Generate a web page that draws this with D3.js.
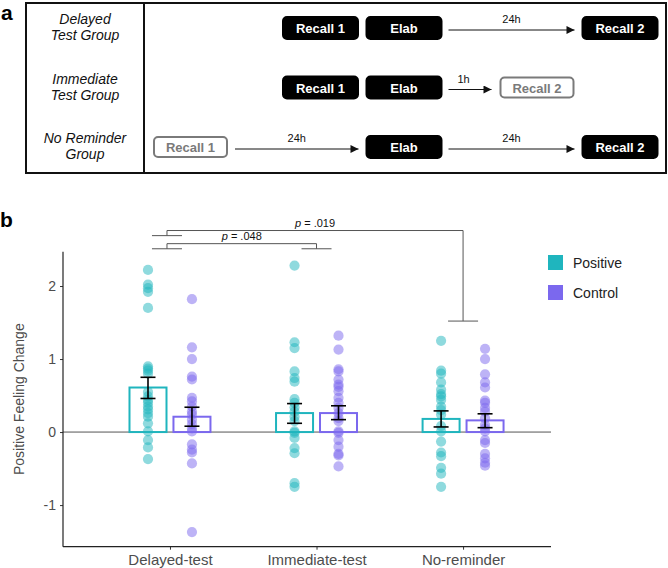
<!DOCTYPE html>
<html><head><meta charset="utf-8">
<script src="https://cdn.jsdelivr.net/npm/d3@7"></script>
<style>body{margin:0;background:#fff} svg{display:block;font-family:"Liberation Sans",Arial,sans-serif}</style>
</head><body><svg id="c" width="668" height="568"></svg>
<script>
// ---------- data ----------
const categories = ["Delayed-test", "Immediate-test", "No-reminder"];
const conditions = ["Positive", "Control"];
const meanPositive = [0.61, 0.26, 0.18];
const meanControl = [0.21, 0.26, 0.16];
const errLowPositive = [0.46, 0.12, 0.07];
const errHighPositive = [0.75, 0.39, 0.29];
const errLowControl = [0.08, 0.17, 0.06];
const errHighControl = [0.34, 0.36, 0.25];
const ptsDelayedPositive = [2.22, 2.02, 1.97, 1.92, 1.70, 0.90, 0.87, 0.84, 0.80, 0.55, 0.49, 0.44, 0.40, 0.35, 0.31, 0.26, 0.21, 0.12, 0.01, -0.11, -0.21, -0.37];
const ptsDelayedControl = [1.82, 1.16, 1.00, 0.76, 0.72, 0.47, 0.42, 0.35, 0.28, 0.24, 0.17, 0.11, 0.05, 0.01, -0.17, -0.24, -0.28, -0.43, -1.37];
const ptsImmediatePositive = [2.28, 1.23, 1.15, 0.83, 0.74, 0.69, 0.45, 0.40, 0.34, 0.28, 0.21, 0.15, 0.01, -0.01, -0.08, -0.22, -0.29, -0.70, -0.75];
const ptsImmediateControl = [1.32, 1.13, 0.86, 0.83, 0.72, 0.65, 0.62, 0.56, 0.47, 0.40, 0.33, 0.26, 0.19, 0.15, 0.01, -0.01, -0.11, -0.20, -0.30, -0.32, -0.47];
const ptsNoReminderPositive = [1.25, 0.84, 0.80, 0.68, 0.58, 0.52, 0.49, 0.44, 0.35, 0.30, 0.24, 0.08, 0.01, -0.13, -0.28, -0.33, -0.49, -0.57, -0.75];
const ptsNoReminderControl = [1.14, 1.00, 0.79, 0.68, 0.61, 0.43, 0.40, 0.33, 0.28, 0.19, 0.10, 0.05, 0.01, -0.11, -0.15, -0.30, -0.36, -0.42, -0.46];
const yTicks = [-1, 0, 1, 2];
const yTickLabels = ["-1", "0", "1", "2"];
const sigPairs = [[0, 1], [0, 2]];
const sigValues = [".048", ".019"];
const sigLevels = [2.58, 2.76];
const sigRightDrop = [2.51, 1.52];
const yLabel = "Positive Feeling Change";

// schematic (panel a)
const groupLines = [["Delayed", "Test Group"], ["Immediate", "Test Group"], ["No Reminder", "Group"]];
const rowBoxes = [
  [["Recall 1", "r1", true], ["Elab", "el", true], ["Recall 2", "r2", true]],
  [["Recall 1", "r1", true], ["Elab", "el", true], ["Recall 2", "r2i", false]],
  [["Recall 1", "r0", false], ["Elab", "el", true], ["Recall 2", "r2", true]]
];
const rowArrows = [
  [["el", "r2", "24h"]],
  [["el", "r2i", "1h"]],
  [["r0", "el", "24h"], ["el", "r2", "24h"]]
];

// ---------- drawing ----------
const svg = d3.select("#c");
const teal = "#1FB5BE", purple = "#7B68EE";
const font = '"Liberation Sans", Arial, sans-serif';

// Panel a
const slotX = {r0: 190.5, r1: 320.5, el: 404, r2i: 537, r2: 620};
const rowY = d3.scalePoint().domain([0, 1, 2]).range([28, 147]);
const boxW = 75, boxH = 22;
svg.append("text").attr("x", 1).attr("y", 20).attr("font-size", 21).attr("font-weight", "bold").text("a");
svg.append("rect").attr("x", 26).attr("y", 3).attr("width", 640).attr("height", 170)
  .attr("fill", "none").attr("stroke", "#111").attr("stroke-width", 2);
svg.append("line").attr("x1", 144).attr("x2", 144).attr("y1", 3).attr("y2", 173).attr("stroke", "#111").attr("stroke-width", 2);

const defs = svg.append("defs");
defs.append("marker").attr("id", "ah").attr("viewBox", "0 0 10 10").attr("refX", 10).attr("refY", 5)
  .attr("markerWidth", 9).attr("markerHeight", 8).attr("markerUnits", "userSpaceOnUse").attr("orient", "auto")
  .append("path").attr("d", "M0,0L10,5L0,10Z").attr("fill", "#111");

groupLines.forEach((lines, i) => {
  const cy = rowY(i);
  lines.forEach((t, j) => {
    svg.append("text").attr("x", 85).attr("y", cy - 4 + j * 16).attr("text-anchor", "middle")
      .attr("font-size", 14).attr("font-style", "italic").attr("fill", "#111").text(t);
  });
  rowBoxes[i].forEach(([label, slot, filled]) => {
    const cx = slotX[slot];
    const g = svg.append("g");
    g.append("rect").attr("x", cx - boxW / 2 + (filled ? 0 : 1)).attr("y", cy - boxH / 2 + (filled ? 0 : 1))
      .attr("width", boxW - (filled ? 0 : 2)).attr("height", boxH - (filled ? 0 : 2)).attr("rx", 4)
      .attr("fill", filled ? "#000" : "#fff").attr("stroke", filled ? "#000" : "#7a7a7a").attr("stroke-width", 2);
    g.append("text").attr("x", cx).attr("y", cy + 5).attr("text-anchor", "middle").attr("font-size", 13)
      .attr("font-weight", "bold").attr("fill", filled ? "#fff" : "#7a7a7a").text(label);
  });
  rowArrows[i].forEach(([a, b, lab]) => {
    const x1 = slotX[a] + boxW / 2 + 7, x2 = slotX[b] - boxW / 2 - 8;
    svg.append("line").attr("x1", x1).attr("x2", x2).attr("y1", cy + 2).attr("y2", cy + 2)
      .attr("stroke", "#111").attr("stroke-width", 1).attr("marker-end", "url(#ah)");
    const lx = lab === "1h" ? x1 + 15 : (x1 + x2) / 2;
    svg.append("text").attr("x", lx).attr("y", cy - 5).attr("text-anchor", "middle").attr("font-size", 11)
      .attr("fill", "#111").text(lab);
  });
});

// Panel b
svg.append("text").attr("x", 0).attr("y", 227).attr("font-size", 21).attr("font-weight", "bold").text("b");
const x = d3.scaleLinear().domain([-0.73, 2.6]).range([63, 551]);
const y = d3.scaleLinear().domain([-1.57, 2.47]).range([546.7, 251.7]);
const off = 0.15, bw = 37;

// zero line
svg.append("line").attr("x1", x(-0.73)).attr("x2", x(2.6)).attr("y1", y(0)).attr("y2", y(0))
  .attr("stroke", "#555").attr("stroke-width", 1);

const groups = [
  {pos: meanPositive, lo: errLowPositive, hi: errHighPositive, col: teal, d: -off,
   pts: [ptsDelayedPositive, ptsImmediatePositive, ptsNoReminderPositive]},
  {pos: meanControl, lo: errLowControl, hi: errHighControl, col: purple, d: off,
   pts: [ptsDelayedControl, ptsImmediateControl, ptsNoReminderControl]}
];
groups.forEach(gr => {
  svg.append("g").selectAll("rect").data(gr.pos).join("rect")
    .attr("x", (v, i) => x(i + gr.d) - bw / 2).attr("y", v => y(v)).attr("width", bw)
    .attr("height", v => y(0) - y(v)).attr("fill", "none").attr("stroke", gr.col).attr("stroke-width", 2);
});
groups.forEach(gr => {
  gr.pts.forEach((arr, i) => {
    svg.append("g").selectAll("circle").data(arr).join("circle")
      .attr("cx", x(i + gr.d)).attr("cy", v => y(v)).attr("r", 5.1)
      .attr("fill", gr.col).attr("fill-opacity", 0.5);
  });
});
groups.forEach(gr => {
  gr.pos.forEach((v, i) => {
    const cx = x(i + gr.d);
    const g = svg.append("g").attr("stroke", "#000").attr("stroke-width", 1.6);
    g.append("line").attr("x1", cx).attr("x2", cx).attr("y1", y(gr.lo[i])).attr("y2", y(gr.hi[i]));
    g.append("line").attr("x1", cx - 7.5).attr("x2", cx + 7.5).attr("y1", y(gr.lo[i])).attr("y2", y(gr.lo[i]));
    g.append("line").attr("x1", cx - 7.5).attr("x2", cx + 7.5).attr("y1", y(gr.hi[i])).attr("y2", y(gr.hi[i]));
  });
});

// axes
const yAxis = d3.axisLeft(y).tickValues(yTicks).tickSize(3).tickFormat((d, i) => yTickLabels[i]);
const gy = svg.append("g").attr("transform", `translate(${x(-0.73)},0)`).call(yAxis);
gy.select(".domain").remove();
gy.selectAll("text").attr("font-size", 14).attr("fill", "#4d4d4d").attr("font-family", font).attr("dx", -1);
gy.selectAll("line").attr("stroke", "#333");
svg.append("line").attr("x1", x(-0.73)).attr("x2", x(-0.73)).attr("y1", y(2.47)).attr("y2", y(-1.57)).attr("stroke", "#222").attr("stroke-width", 1.2);

const xAxis = d3.axisBottom(x).tickValues([0, 1, 2]).tickSize(3).tickFormat(i => categories[i]);
const gx = svg.append("g").attr("transform", `translate(0,${y(-1.57)})`).call(xAxis);
gx.select(".domain").remove();
gx.selectAll("text").attr("font-size", 15).attr("fill", "#4d4d4d").attr("font-family", font).attr("dy", "0.85em");
gx.selectAll("line").attr("stroke", "#333");
svg.append("line").attr("x1", x(-0.73)).attr("x2", x(2.6)).attr("y1", y(-1.57)).attr("y2", y(-1.57)).attr("stroke", "#222").attr("stroke-width", 1.2);

svg.append("text").attr("transform", `translate(24,${y(0.45)}) rotate(-90)`).attr("text-anchor", "middle")
  .attr("font-size", 14).attr("fill", "#4d4d4d").text(yLabel);

// significance brackets
const foot = 15, footDrop = 0.07;
sigPairs.forEach(([a, b], k) => {
  const yl = y(sigLevels[k]);
  const xa = x(a) - 3, xb = x(b);
  const yla = y(sigLevels[k] - footDrop), ylb = y(sigRightDrop[k]);
  const p = d3.path();
  p.moveTo(xa - foot, yla); p.lineTo(xa + foot, yla);
  p.moveTo(xa, yla); p.lineTo(xa, yl); p.lineTo(xb, yl); p.lineTo(xb, ylb);
  p.moveTo(xb - foot, ylb); p.lineTo(xb + foot, ylb);
  svg.append("path").attr("d", p.toString()).attr("fill", "none").attr("stroke", "#555").attr("stroke-width", 1);
  const t = svg.append("text").attr("x", (xa + xb) / 2).attr("y", yl - 4).attr("text-anchor", "middle")
    .attr("font-size", 11).attr("fill", "#111");
  t.append("tspan").attr("font-style", "italic").text("p");
  t.append("tspan").text(" = " + sigValues[k]);
});

// legend
const lg = svg.append("g").selectAll("g").data(conditions).join("g")
  .attr("transform", (d, i) => `translate(548,${255 + i * 30})`);
lg.append("rect").attr("width", 15).attr("height", 15).attr("fill", (d, i) => i ? purple : teal);
lg.append("text").attr("x", 25).attr("y", 12.5).attr("font-size", 14).attr("fill", "#222").text(d => d);
</script></body></html>
